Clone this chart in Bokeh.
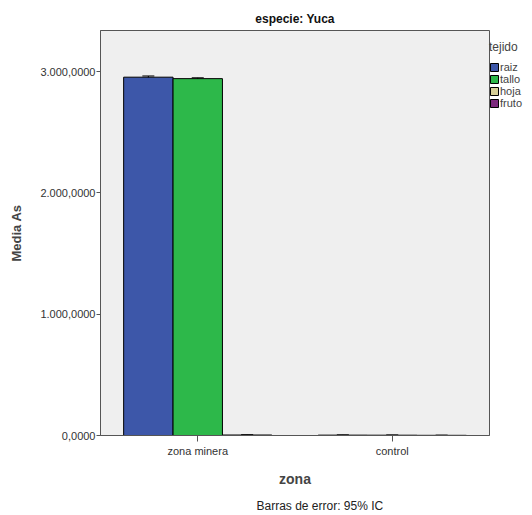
from bokeh.plotting import figure
from bokeh.models import (ColumnDataSource, FactorRange, Range1d, FixedTicker,
                          Legend, LegendItem, Whisker, Title, TeeHead)
from bokeh.transform import dodge
from bokeh.embed import file_html
from bokeh.resources import INLINE

# ---- data ----
zonas = ["zona minera", "control"]
tejidos = ["raiz", "tallo", "hoja", "fruto"]
colores = ["#3d57a9", "#2db84a", "#d6cf97", "#7d2a7e"]
media_raiz = [2955000, 3000]
media_tallo = [2943000, 2500]
media_hoja = [4000, 1500]
media_fruto = [float("nan"), float("nan")]
inf_raiz = [2945000, 1000]
sup_raiz = [2965000, 5000]
inf_tallo = [2936000, 800]
sup_tallo = [2950000, 4200]
inf_hoja = [2000, 500]
sup_hoja = [6000, 2500]
y_ticks = [0, 1000000, 2000000, 3000000]
y_tick_labels = ["0,0000", "1.000,0000", "2.000,0000", "3.000,0000"]

FONT = "Liberation Sans"

p = figure(x_range=FactorRange(*zonas, range_padding=0),
           y_range=Range1d(0, 3340000),
           frame_width=389, frame_height=405, output_backend="svg", toolbar_location=None,
           min_border_left=0, min_border_top=0, min_border_right=0, min_border_bottom=0)
p.margin = (4, 0, 0, 6)

p.background_fill_color = "#efefef"
p.border_fill_color = "white"
p.outline_line_color = "#555555"
p.outline_line_width = 1
p.xgrid.grid_line_color = None
p.ygrid.grid_line_color = None

p.title.text = "especie: Yuca"
p.title.align = "center"
p.title.text_font = FONT
p.title.text_font_size = "12px"
p.title.text_font_style = "bold"
p.title.text_color = "#111111"

w = 0.254
offs = [-w, 0.0, w]
series = [(media_raiz, inf_raiz, sup_raiz), (media_tallo, inf_tallo, sup_tallo),
          (media_hoja, inf_hoja, sup_hoja)]
renderers = []
for i, (m, lo, hi) in enumerate(series):
    src = ColumnDataSource(dict(zona=zonas, media=m, lo=lo, hi=hi))
    r = p.vbar(x=dodge("zona", offs[i], range=p.x_range), top="media", width=w, source=src,
               fill_color=colores[i], line_color="black", line_width=1)
    renderers.append(r)
    wk = Whisker(base=dodge("zona", offs[i], range=p.x_range), lower="lo", upper="hi", source=src,
                 line_color="black", line_width=1,
                 upper_head=TeeHead(size=12, line_color="black", line_width=1),
                 lower_head=TeeHead(size=12, line_color="black", line_width=1))
    p.add_layout(wk)

src_f = ColumnDataSource(dict(zona=zonas, media=media_fruto))
rf = p.vbar(x="zona", top="media", width=w, source=src_f, fill_color=colores[3],
            line_color="black", line_width=1)
renderers.append(rf)

legend = Legend(items=[LegendItem(label=t, renderers=[r]) for t, r in zip(tejidos, renderers)],
                title="tejido", location=(0, 326))
legend.border_line_color = None
legend.background_fill_alpha = 0
legend.title_text_font = FONT
legend.title_text_font_size = "12px"
legend.title_text_font_style = "normal"
legend.title_standoff = 7
legend.label_text_font = FONT
legend.label_text_font_size = "11px"
legend.glyph_width = 10
legend.glyph_height = 10
legend.label_height = 10
legend.label_standoff = 1
legend.spacing = 0
legend.padding = 2
legend.margin = 0
p.add_layout(legend, "right")

# axes
p.yaxis.ticker = FixedTicker(ticks=y_ticks)
p.yaxis.major_label_overrides = {t: l for t, l in zip(y_ticks, y_tick_labels)}
p.yaxis.axis_label = "Media As"
p.yaxis.axis_label_text_font = FONT
p.yaxis.axis_label_text_font_size = "13px"
p.yaxis.axis_label_text_font_style = "bold"
p.yaxis.axis_label_standoff = 13
p.yaxis.major_label_text_font = FONT
p.yaxis.major_label_text_font_size = "11px"
p.yaxis.major_label_text_color = "#333333"
p.yaxis.major_label_standoff = 1
p.yaxis.minor_tick_line_color = None
p.yaxis.major_tick_out = 4
p.yaxis.major_tick_in = 0
p.yaxis.axis_line_color = "#555555"
p.yaxis.major_tick_line_color = "#555555"

p.xaxis.axis_label = "zona"
p.xaxis.axis_label_text_font = FONT
p.xaxis.axis_label_text_font_size = "14px"
p.xaxis.axis_label_text_font_style = "bold"
p.xaxis.axis_label_standoff = 11
p.xaxis.major_label_text_font = FONT
p.xaxis.major_label_text_font_size = "11px"
p.xaxis.major_label_text_color = "#333333"
p.xaxis.major_label_standoff = 3
p.xaxis.major_tick_out = 6
p.xaxis.major_tick_in = 0
p.xaxis.axis_line_color = "#555555"
p.xaxis.major_tick_line_color = "#555555"

p.add_layout(Title(text="Barras de error: 95% IC", align="left", offset=156, standoff=14,
                   text_font=FONT, text_font_size="12px", text_font_style="normal",
                   text_color="#222222"), "below")

open("out.html", "w").write(file_html(p, INLINE))
